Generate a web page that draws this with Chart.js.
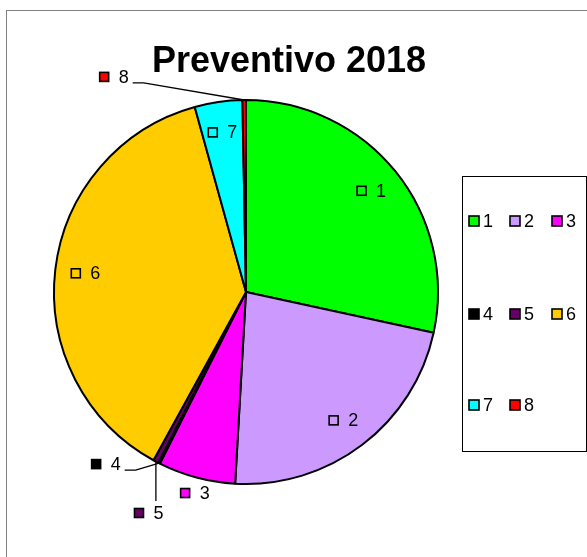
<!DOCTYPE html>
<html>
<head>
<meta charset="utf-8">
<script src="https://cdn.jsdelivr.net/npm/chart.js@4/dist/chart.umd.min.js"></script>
<style>
  html, body { margin: 0; padding: 0; background: #fff; }
  canvas { display: block; }
</style>
</head>
<body>
<canvas id="pie" width="587" height="557"></canvas>
<script>
// data (share of the year, %)
const categories = ['1', '2', '3', '4', '5', '6', '7', '8'];
const values = [28.4, 22.5, 6.5, 0.15, 0.45, 37.7, 4.0, 0.3];
const colors = ['#00FF00', '#CC99FF', '#FF00FF', '#000000', '#660066', '#FFCC00', '#00FFFF', '#FF0000'];
const chartTitle = 'Preventivo 2018';

// labels that sit outside the pie: angle (deg clockwise from top), radius factor, leader style
const outsideLabels = {
    2: { angle: 194.2, r: 1.08, leader: null },
    3: { angle: 219.1, r: 1.155, leader: 'side' },
    4: { angle: 203.7, r: 1.257, leader: 'top' },
    7: { angle: 328.5, r: 1.314, leader: 'side' }
};

const FONT = '18px "Liberation Sans", Arial, sans-serif';

function drawKey(ctx, x, y, color, size) {
    ctx.fillStyle = color;
    ctx.fillRect(x, y - size / 2, size, size);
    ctx.strokeStyle = '#000';
    ctx.lineWidth = 1.6;
    ctx.strokeRect(x, y - size / 2, size, size);
}

const decorPlugin = {
    id: 'decor',
    beforeDraw(chart) {
        const ctx = chart.ctx;
        ctx.save();
        ctx.fillStyle = '#fff';
        ctx.fillRect(0, 0, chart.width, chart.height);
        ctx.strokeStyle = '#808080';
        ctx.lineWidth = 1;
        ctx.strokeRect(6.5, 10.5, 700, 700);
        // title
        ctx.fillStyle = '#000';
        ctx.font = 'bold 36px "Liberation Sans", Arial, sans-serif';
        ctx.textAlign = 'center';
        ctx.textBaseline = 'alphabetic';
        ctx.fillText(chartTitle, 289, 72);
        ctx.restore();
    },
    afterDatasetsDraw(chart) {
        const ctx = chart.ctx;
        const arcs = chart.getDatasetMeta(0).data;
        ctx.save();
        ctx.font = FONT;
        ctx.textBaseline = 'middle';
        ctx.textAlign = 'left';
        arcs.forEach((arc, i) => {
            const { x, y, startAngle, endAngle, outerRadius } = arc.getProps(['x', 'y', 'startAngle', 'endAngle', 'outerRadius'], true);
            const mid = (startAngle + endAngle) / 2;
            const text = categories[i];
            const tw = ctx.measureText(text).width;
            const groupW = 9 + 10 + tw;
            let cx, cy;
            const o = outsideLabels[i];
            if (o) {
                const a = (o.angle - 90) * Math.PI / 180;
                cx = x + Math.cos(a) * outerRadius * o.r;
                cy = y + Math.sin(a) * outerRadius * o.r;
            } else {
                cx = x + Math.cos(mid) * outerRadius * 0.84;
                cy = y + Math.sin(mid) * outerRadius * 0.84;
            }
            const left = cx - groupW / 2;
            drawKey(ctx, left, cy, colors[i], 9);
            ctx.fillStyle = '#000';
            ctx.fillText(text, left + 19, cy + 1);
            if (o && o.leader) {
                const ex = x + Math.cos(mid) * outerRadius;
                const ey = y + Math.sin(mid) * outerRadius;
                ctx.strokeStyle = '#000';
                ctx.lineWidth = 1.3;
                ctx.beginPath();
                if (o.leader === 'side') {
                    const sx = left + groupW + 4;
                    const sy = cy + 6;
                    ctx.moveTo(sx, sy);
                    ctx.lineTo(sx + 11, sy);
                    ctx.lineTo(ex, ey);
                } else {
                    ctx.moveTo(ex, cy - 12);
                    ctx.lineTo(ex, ey);
                }
                ctx.stroke();
            }
        });

        // legend box
        ctx.fillStyle = '#fff';
        ctx.strokeStyle = '#000';
        ctx.lineWidth = 1;
        ctx.fillRect(462.5, 176.5, 124, 275);
        ctx.strokeRect(462.5, 176.5, 124, 275);
        const colX = [469, 510, 552];
        const rowY = [221, 314, 405];
        categories.forEach((c, i) => {
            const lx = colX[i % 3];
            const ly = rowY[Math.floor(i / 3)];
            drawKey(ctx, lx, ly, colors[i], 10);
            ctx.fillStyle = '#000';
            ctx.fillText(c, lx + 14, ly + 1);
        });
        ctx.restore();
    }
};

new Chart(document.getElementById('pie'), {
    type: 'pie',
    data: {
        labels: categories,
        datasets: [{
            data: values,
            backgroundColor: colors,
            borderColor: '#000',
            borderWidth: 2
        }]
    },
    options: {
        responsive: false,
        animation: false,
        devicePixelRatio: 1,
        layout: { padding: { left: 53, right: 148, top: 99, bottom: 72 } },
        plugins: {
            legend: { display: false },
            title: { display: false },
            tooltip: { enabled: false }
        }
    },
    plugins: [decorPlugin]
});
</script>
</body>
</html>
